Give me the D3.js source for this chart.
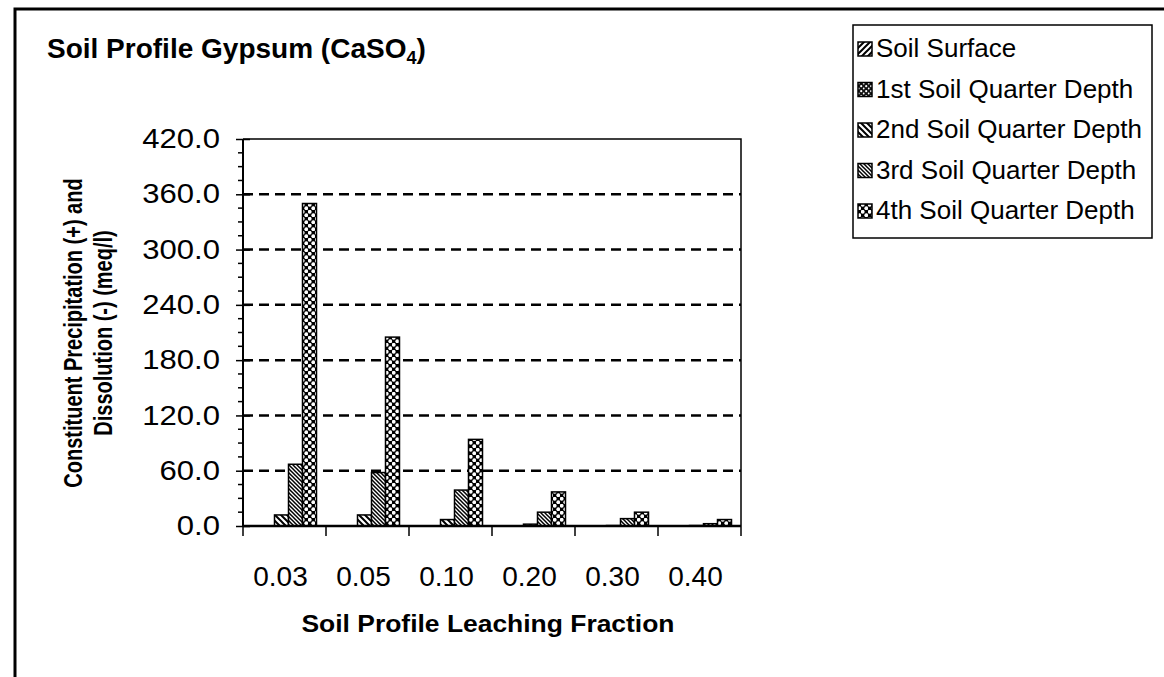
<!DOCTYPE html>
<html>
<head>
<meta charset="utf-8">
<script src="https://cdn.jsdelivr.net/npm/d3@7"></script>
<style>
  html, body { margin: 0; padding: 0; background: #fff; }
  svg { display: block; }
  text { font-family: "Liberation Sans", Arial, Helvetica, sans-serif; fill: #000; }
</style>
</head>
<body>
<svg id="chart" width="1164" height="677"></svg>
<script>
// ---- data ----
const categories = ["0.03", "0.05", "0.10", "0.20", "0.30", "0.40"];
const seriesNames = ["Soil Surface", "1st Soil Quarter Depth", "2nd Soil Quarter Depth", "3rd Soil Quarter Depth", "4th Soil Quarter Depth"];
const soilSurface = [0, 0, 0, 0, 0, 0];
const quarter1 = [0, 0, 0, 0, 0, 0];
const quarter2 = [12, 12, 7, 2, 0.5, 0.5];
const quarter3 = [67, 58, 39, 15, 8, 2.5];
const quarter4 = [350, 205, 94, 37, 15, 7];
const yTicks = [0, 60, 120, 180, 240, 300, 360, 420];

const seriesValues = [soilSurface, quarter1, quarter2, quarter3, quarter4];

const svg = d3.select("#chart");

// ---- patterns ----
const defs = svg.append("defs");
const p0 = defs.append("pattern").attr("id", "pat0").attr("patternUnits", "userSpaceOnUse")
  .attr("width", 6).attr("height", 6);
p0.append("rect").attr("width", 6).attr("height", 6).attr("fill", "#fff");
p0.append("path").attr("d", "M-1,7 L7,-1 M-1,1 L1,-1 M5,7 L7,5").attr("stroke", "#000").attr("stroke-width", 2);
const p1 = defs.append("pattern").attr("id", "pat1").attr("patternUnits", "userSpaceOnUse")
  .attr("width", 5).attr("height", 5);
p1.append("rect").attr("width", 5).attr("height", 5).attr("fill", "#111");
p1.append("circle").attr("cx", 1.2).attr("cy", 1.2).attr("r", 1.1).attr("fill", "#fff");
p1.append("circle").attr("cx", 3.7).attr("cy", 3.5).attr("r", 0.9).attr("fill", "#fff");
const p2 = defs.append("pattern").attr("id", "pat2").attr("patternUnits", "userSpaceOnUse")
  .attr("width", 6).attr("height", 6);
p2.append("rect").attr("width", 6).attr("height", 6).attr("fill", "#fff");
p2.append("path").attr("d", "M-1,-1 L7,7 M5,-1 L7,1 M-1,5 L1,7").attr("stroke", "#000").attr("stroke-width", 2);
const p3 = defs.append("pattern").attr("id", "pat3").attr("patternUnits", "userSpaceOnUse")
  .attr("width", 4).attr("height", 4);
p3.append("rect").attr("width", 4).attr("height", 4).attr("fill", "#fff");
p3.append("path").attr("d", "M-1,-1 L5,5 M3,-1 L5,1 M-1,3 L1,5").attr("stroke", "#000").attr("stroke-width", 1.5);
const p4 = defs.append("pattern").attr("id", "pat4").attr("patternUnits", "userSpaceOnUse")
  .attr("width", 7).attr("height", 7);
p4.append("rect").attr("width", 7).attr("height", 7).attr("fill", "#000");
p4.append("circle").attr("cx", 1.75).attr("cy", 1.75).attr("r", 1.9).attr("fill", "#fff");
p4.append("circle").attr("cx", 5.25).attr("cy", 5.25).attr("r", 1.9).attr("fill", "#fff");
const patIds = ["pat0", "pat1", "pat2", "pat3", "pat4"];

// ---- outer frame ----
svg.append("path").attr("d", "M15,677 L15,9 L1164,9").attr("fill", "none").attr("stroke", "#000").attr("stroke-width", 3);

// ---- scales ----
const plot = { left: 243, right: 741, top: 139, bottom: 526 };
const y = d3.scaleLinear().domain([0, 420]).range([plot.bottom, plot.top]);
const x0 = d3.scaleBand().domain(categories).range([plot.left, plot.right]).padding(0);
const x1 = d3.scaleBand().domain(d3.range(seriesNames.length)).range([3.5, x0.bandwidth() - 9.5]).padding(0);

// ---- gridlines ----
svg.append("g").selectAll("line").data(yTicks.filter(t => t > 0 && t < 420)).join("line")
  .attr("x1", plot.left).attr("x2", plot.right)
  .attr("y1", d => y(d)).attr("y2", d => y(d))
  .attr("stroke", "#000").attr("stroke-width", 2.5).attr("stroke-dasharray", "10,6");

// ---- bars ----
const g = svg.append("g");
categories.forEach((c, ci) => {
  seriesValues.forEach((vals, si) => {
    const v = vals[ci];
    if (v <= 0) return;
    g.append("rect")
      .attr("x", x0(c) + x1(si))
      .attr("width", x1.bandwidth())
      .attr("y", y(v))
      .attr("height", y(0) - y(v))
      .attr("fill", `url(#${patIds[si]})`)
      .attr("stroke", "#000").attr("stroke-width", 1.5);
  });
});

// ---- plot border (top, right) ----
svg.append("path").attr("d", `M${plot.left},${plot.top} L${plot.right},${plot.top} L${plot.right},${plot.bottom}`)
  .attr("fill", "none").attr("stroke", "#000").attr("stroke-width", 1.5);

// ---- y axis ----
const ySX = 1.15;
const yAxis = d3.axisLeft(y).tickValues(yTicks).tickSize(7).tickFormat(d3.format(".1f"));
const yg = svg.append("g").attr("transform", `translate(${plot.left},0)`).call(yAxis);
yg.select(".domain").attr("stroke", "#000").attr("stroke-width", 2).attr("d", `M0,${plot.top}V${plot.bottom}`);
yg.selectAll(".tick line").attr("x1", -7).attr("x2", 7).attr("stroke-width", 1.5);
yg.selectAll(".tick text").attr("font-size", 27).attr("font-family", "Liberation Sans, Arial, sans-serif")
  .attr("x", -23 / ySX).attr("transform", `scale(${ySX},1)`);
const minor = d3.range(0, 421, 15).filter(v => v % 60 !== 0);
svg.append("g").selectAll("line").data(minor).join("line")
  .attr("x1", plot.left - 5).attr("x2", plot.left)
  .attr("y1", d => y(d)).attr("y2", d => y(d))
  .attr("stroke", "#000").attr("stroke-width", 1.5);

// ---- x axis ----
const xAxis = d3.axisBottom(x0).tickSize(0).tickPadding(40);
const xg = svg.append("g").attr("transform", `translate(0,${plot.bottom})`).call(xAxis);
xg.select(".domain").attr("stroke", "#000").attr("stroke-width", 2.5).attr("d", `M${plot.left},0H${plot.right}`);
xg.selectAll(".tick text").attr("font-size", 28).attr("dx", -4).attr("font-family", "Liberation Sans, Arial, sans-serif");
const bounds = categories.map(c => x0(c)).concat([plot.right]);
svg.append("g").selectAll("line").data(bounds).join("line")
  .attr("x1", d => d).attr("x2", d => d)
  .attr("y1", plot.bottom).attr("y2", plot.bottom + 10)
  .attr("stroke", "#000").attr("stroke-width", 1.5);

// ---- titles ----
const title = svg.append("text").attr("x", 47).attr("y", 58)
  .attr("font-size", 28).attr("font-weight", "bold");
title.append("tspan").text("Soil Profile Gypsum (CaSO");
title.append("tspan").attr("font-size", 18).attr("dy", 6).text("4");
title.append("tspan").attr("dy", -6).text(")");

svg.append("text").attr("transform", "translate(488,632) scale(1.15,1)").attr("text-anchor", "middle")
  .attr("font-size", 23).attr("font-weight", "bold").text("Soil Profile Leaching Fraction");

const yTitleLines = ["Constituent Precipitation (+) and", "Dissolution (-) (meq/l)"];
const ytg = svg.append("g");
ytg.selectAll("text").data(yTitleLines).join("text")
  .attr("transform", (d, i) => `translate(${82 + i * 30},333) rotate(-90) scale(1,1.25)`)
  .attr("text-anchor", "middle").attr("font-size", 20).attr("font-weight", "bold")
  .text(d => d);

// ---- legend ----
const lg = svg.append("g");
lg.append("rect").attr("x", 853).attr("y", 25).attr("width", 299).attr("height", 213)
  .attr("fill", "#fff").attr("stroke", "#000").attr("stroke-width", 1.5);
seriesNames.forEach((name, i) => {
  const yy = 57 + i * 40.5;
  lg.append("rect").attr("x", 858).attr("y", yy - 15).attr("width", 14).attr("height", 14)
    .attr("fill", `url(#${patIds[i]})`).attr("stroke", "#000").attr("stroke-width", 1.5);
  lg.append("text").attr("x", 876).attr("y", yy).attr("font-size", 26).text(name);
});
</script>
</body>
</html>
